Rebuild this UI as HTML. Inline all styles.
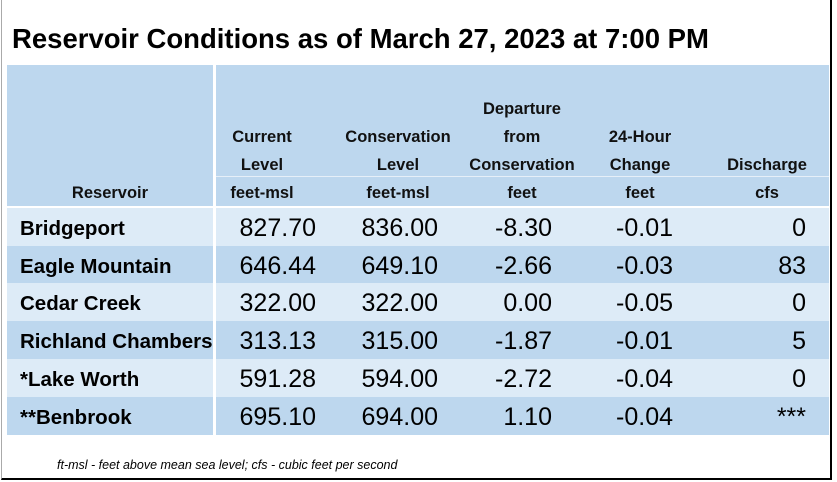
<!DOCTYPE html>
<html><head><meta charset="utf-8"><style>
body{margin:0;width:837px;height:482px;background:#fff;position:relative;overflow:hidden;font-family:"Liberation Sans",sans-serif;}
.abs{position:absolute;}
.frame{left:1px;top:0;width:831px;height:480px;border-left:1px solid #aaa;border-right:2px solid #000;border-bottom:2px solid #000;box-sizing:border-box;}
.title{left:12px;top:23px;font-size:27.5px;font-weight:bold;white-space:nowrap;color:#000;}
.hdr{background:#bdd7ee;}
.h{font-weight:bold;font-size:16.5px;text-align:center;width:140px;line-height:28px;color:#111;}
.name{left:20px;font-weight:bold;font-size:20.5px;white-space:nowrap;}
.num{font-size:25px;text-align:right;width:120px;}
.foot{left:57px;top:458px;font-size:12.5px;font-style:italic;}
</style></head><body>
<div class="abs frame"></div>
<div class="abs title">Reservoir Conditions as of March 27, 2023 at 7:00 PM</div>
<div class="abs hdr" style="left:7px;top:65px;width:206px;height:141px"></div>
<div class="abs hdr" style="left:216px;top:65px;width:613px;height:141px"></div>
<div class="abs" style="left:216px;top:176px;width:613px;height:1px;background:#e6eff8"></div>
<div id="tbl"></div>
<div class="abs foot">ft-msl - feet above mean sea level; cfs - cubic feet per second</div>
<script>
const reservoirs=["Bridgeport","Eagle Mountain","Cedar Creek","Richland Chambers","*Lake Worth","**Benbrook"];
const currentLevel=["827.70","646.44","322.00","313.13","591.28","695.10"];
const conservationLevel=["836.00","649.10","322.00","315.00","594.00","694.00"];
const departure=["-8.30","-2.66","0.00","-1.87","-2.72","1.10"];
const change24=["-0.01","-0.03","-0.05","-0.01","-0.04","-0.04"];
const discharge=["0","83","0","5","0","***"];
const headers=[["Reservoir"],["Current","Level","feet-msl"],["Conservation","Level","feet-msl"],["Departure","from","Conservation","feet"],["24-Hour","Change","feet"],["Discharge","cfs"]];
const hCenters=[110,262,398,522,640,767];
const rights=[0,316,438,552,673,806];
const cols=[reservoirs,currentLevel,conservationLevel,departure,change24,discharge];
const colNames=['reservoir','current-level','conservation-level','departure','change-24h','discharge'];
const T=document.getElementById('tbl');
function mk(cls,style,text){const d=document.createElement('div');d.className='abs '+cls;d.style.cssText=style;if(text!==undefined)d.textContent=text;T.appendChild(d);return d;}
headers.forEach((lines,c)=>{
  lines.forEach((t,i)=>{
    const y=206-28*(lines.length-i);
    const d=mk('h',`left:${hCenters[c]-70}px;top:${y+1}px`,t);
    
    
  });
});
const top0=208,rh=37.7;
reservoirs.forEach((r,i)=>{
  const y=top0+i*rh;const bg=i%2?'#bdd7ee':'#ddebf7';
  const a=mk('',`left:7px;top:${y}px;width:206px;height:${rh+0.5}px;background:${bg}`);
  
  
  const b=mk('',`left:216px;top:${y}px;width:613px;height:${rh+0.5}px;background:${bg}`);
  
  
  const n=mk('name',`top:${y+9}px`,r);
  
  
  for(let c=1;c<cols.length;c++){
    const v=mk('num',`left:${rights[c]-120}px;top:${y+6}px`,cols[c][i]);
    
    
  }
});
</script>
</body></html>
